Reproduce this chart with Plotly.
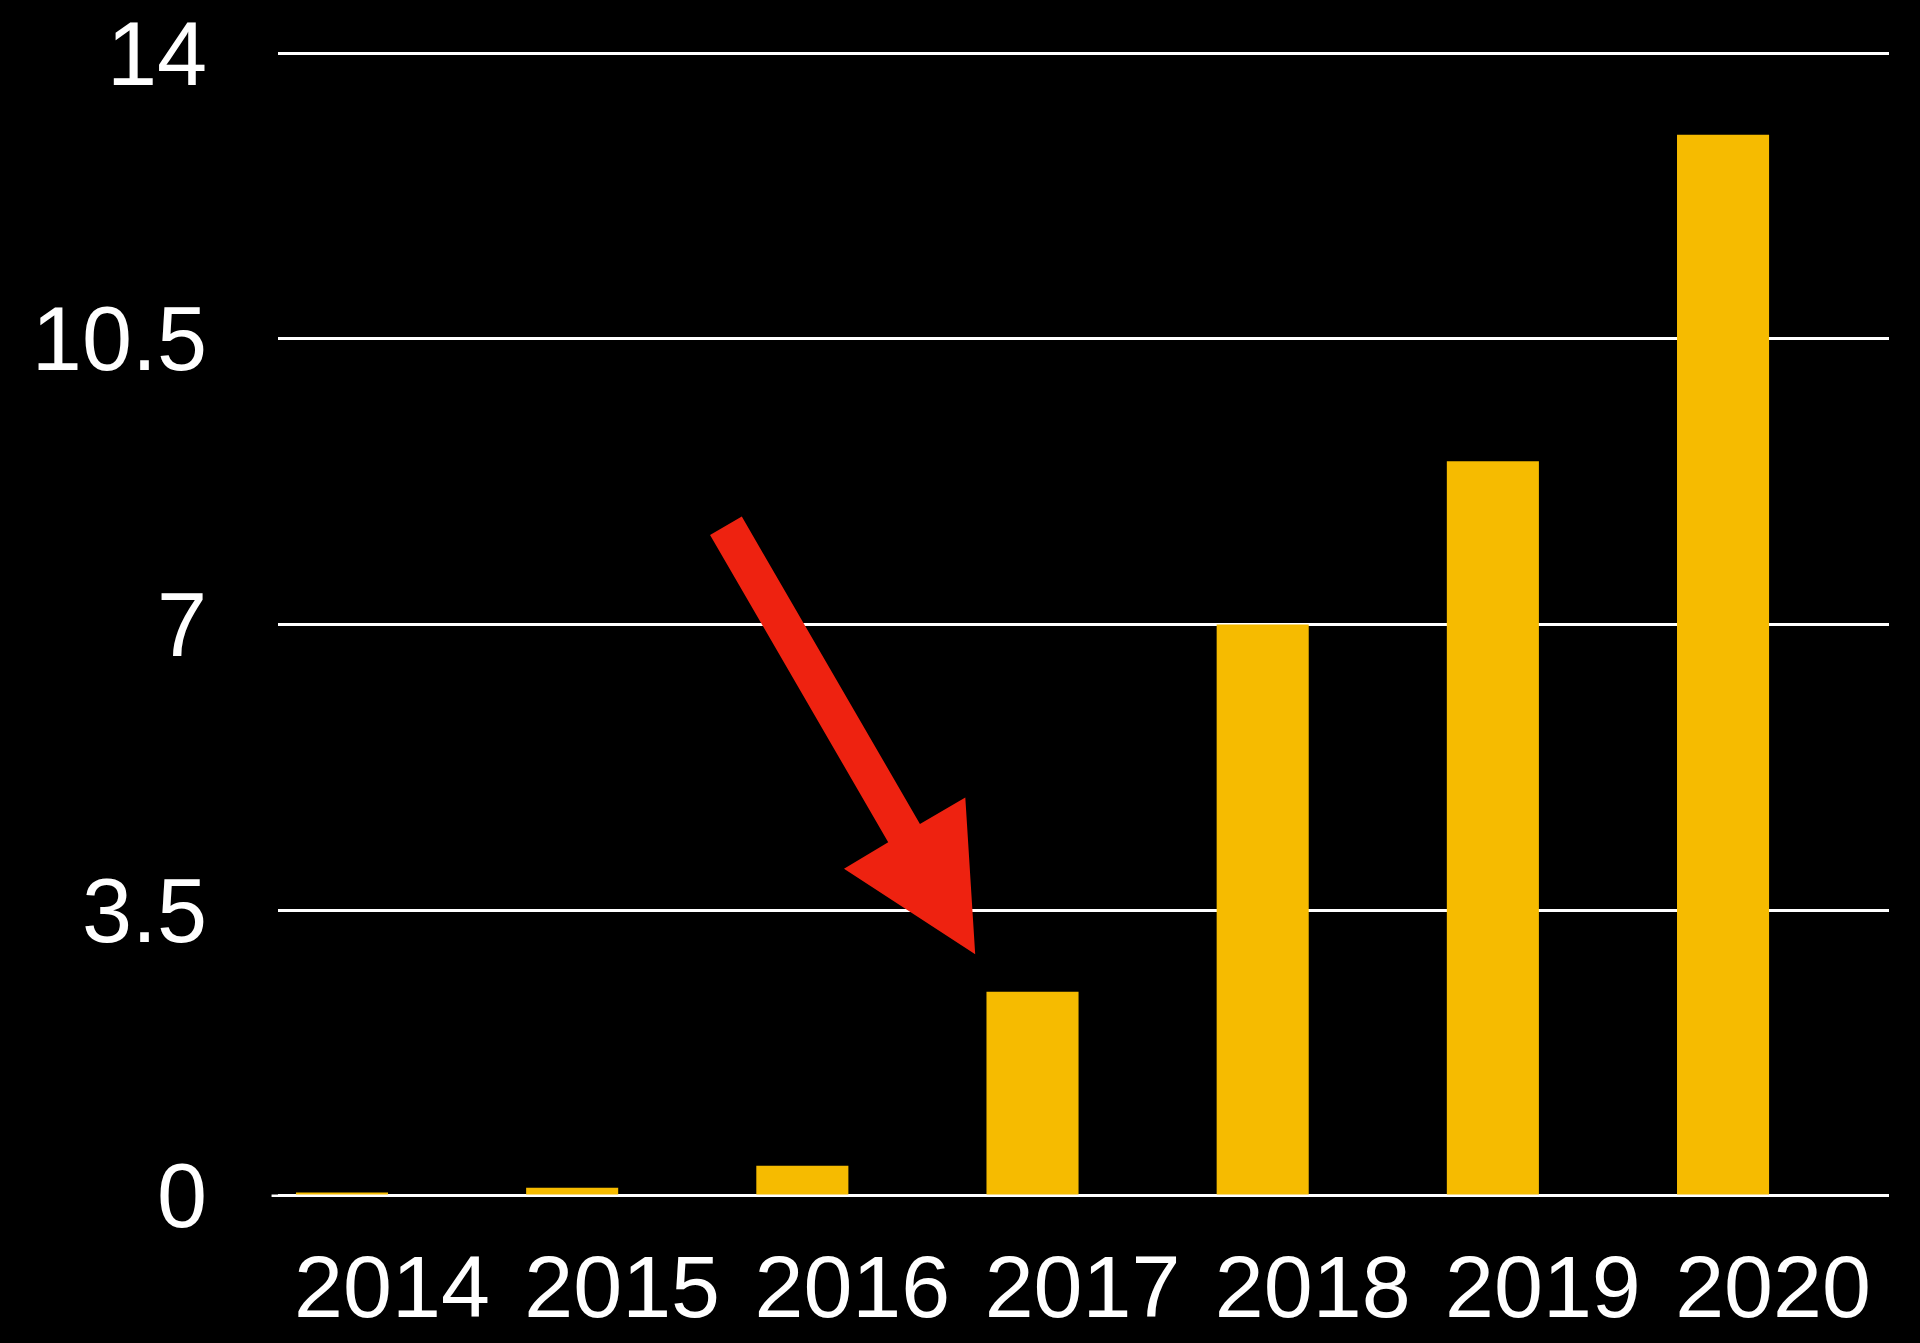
import plotly.graph_objects as go

years = [2014, 2015, 2016, 2017, 2018, 2019, 2020]
values = [0.04, 0.1, 0.37, 2.5, 7.0, 9.0, 13.0]
y_ticks = [0, 3.5, 7, 10.5, 14]
y_tick_labels = ["0", "3.5", "7", "10.5", "14"]

# arrow outline in data units (year, value)
arrow_x = [2015.737, 2015.599, 2016.373, 2016.181, 2016.751, 2016.708, 2016.511]
arrow_y = [8.322, 8.098, 4.333, 4.006, 2.961, 4.879, 4.557]

FONT = "Liberation Sans, Arial, Helvetica, sans-serif"

fig = go.Figure()
fig.add_trace(go.Bar(
    x=years, y=values, width=0.4,
    marker=dict(color="#f6bb00", line=dict(width=0)),
    hoverinfo="x+y",
))

path = "M " + " L ".join(f"{x},{y}" for x, y in zip(arrow_x, arrow_y)) + " Z"
fig.add_shape(type="path", path=path, xref="x", yref="y",
              fillcolor="#ee2210", line=dict(width=0), layer="above")

# zero baseline, slightly extended left
fig.add_shape(type="line", xref="paper", yref="y", x0=-0.004, x1=1, y0=0, y1=0,
              line=dict(color="white", width=2.5), layer="above")

fig.update_layout(
    width=1920, height=1343,
    paper_bgcolor="black", plot_bgcolor="black",
    margin=dict(l=278, r=31, t=45, b=139),
    showlegend=False,
    font=dict(family=FONT, color="white", size=90),
    bargap=0.6,
)
fig.update_xaxes(
    range=[2013.722, 2020.721], automargin=False,
    tickvals=years, ticktext=[str(y) for y in years],
    showgrid=False, zeroline=False, showline=False,
    ticks="", ticklabelstandoff=24, ticklabelshift=50,
    tickfont=dict(family=FONT, size=88, color="white"),
)
fig.update_yaxes(
    range=[-0.1, 14.1], automargin=False,
    tickvals=y_ticks, ticktext=y_tick_labels,
    showgrid=True, gridcolor="white", gridwidth=2.5,
    zeroline=False, showline=False,
    ticks="", ticklabelstandoff=70,
    tickfont=dict(family=FONT, size=90, color="white"),
)

fig.write_html(
    "out.html",
    config={"displayModeBar": False},
    post_script="document.body.style.margin='0';document.body.style.background='black';document.body.style.overflow='hidden';",
)
